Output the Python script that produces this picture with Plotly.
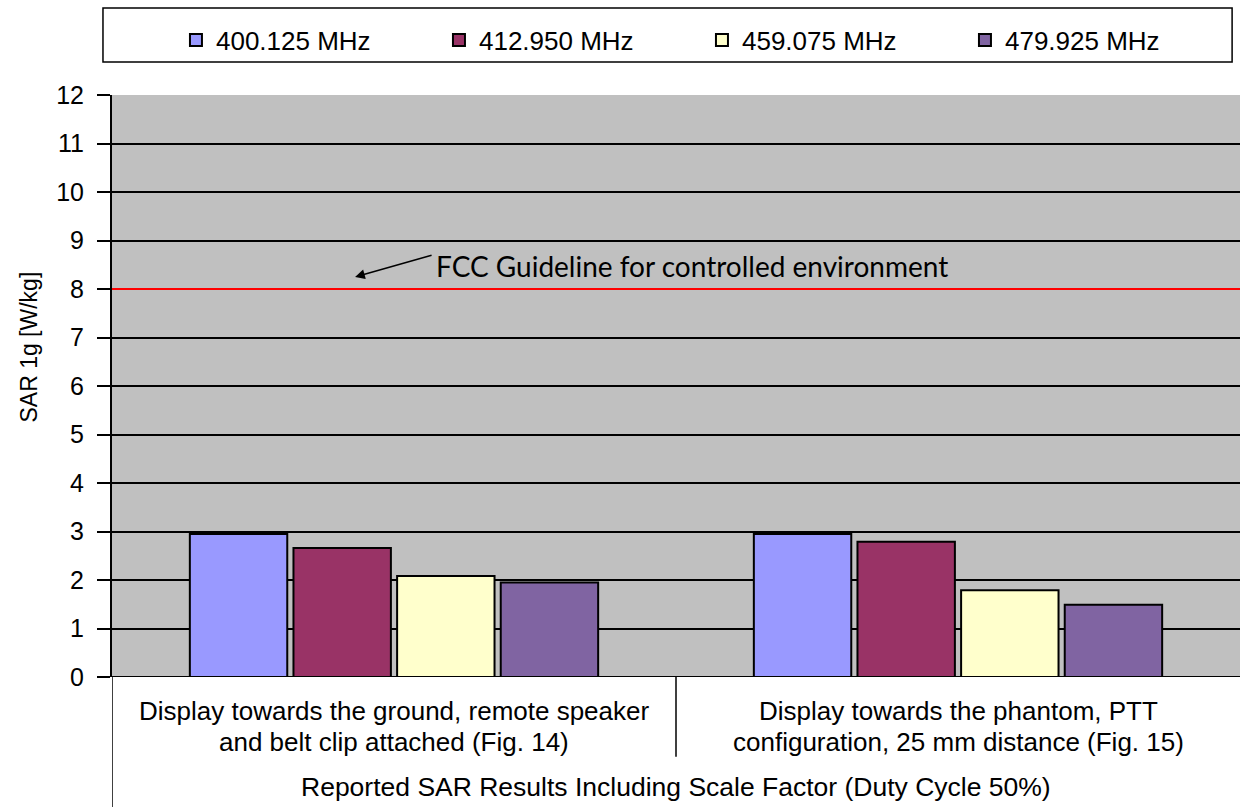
import plotly.graph_objects as go

categories = [
    "Display towards the ground, remote speaker<br>and belt clip attached (Fig. 14)",
    "Display towards the phantom, PTT<br>configuration, 25 mm distance (Fig. 15)",
]
group_title = "Reported SAR Results Including Scale Factor (Duty Cycle 50%)"
y_title = "SAR 1g [W/kg]"
series_names = ["400.125 MHz", "412.950 MHz", "459.075 MHz", "479.925 MHz"]
series_values = [
    [2.95, 2.95],
    [2.66, 2.79],
    [2.08, 1.79],
    [1.95, 1.49],
]
series_colors = ["#9999FF", "#993366", "#FFFFCC", "#8064A2"]
limit_value = 8
limit_label = "FCC Guideline for controlled environment"
y_ticks = list(range(0, 13))

x_idx = list(range(len(categories)))
ARIAL = "Arial, Liberation Sans, sans-serif"

fig = go.Figure()
for name, vals, col in zip(series_names, series_values, series_colors):
    fig.add_trace(go.Bar(
        x=x_idx, y=vals, name=name,
        marker=dict(color=col, line=dict(color="black", width=2)),
    ))

fig.update_layout(
    width=1240, height=807,
    margin=dict(l=112, r=0, t=95, b=130, autoexpand=False),
    paper_bgcolor="white",
    plot_bgcolor="#C0C0C0",
    barmode="group",
    bargap=0.265,
    bargroupgap=0.06,
    font=dict(family=ARIAL, color="black"),
    showlegend=True,
    legend=dict(
        orientation="h", x=0.0567, xanchor="left", y=1.0945, yanchor="middle",
        font=dict(size=26), bgcolor="rgba(0,0,0,0)",
        entrywidth=218, entrywidthmode="pixels", traceorder="normal",
    ),
    xaxis=dict(
        range=[-0.5, 1.5], tickvals=x_idx, ticktext=["", ""],
        showgrid=False, zeroline=False, ticks="", showline=False,
    ),
    yaxis=dict(
        range=[0, 12], tickvals=y_ticks, showgrid=True, gridcolor="black",
        gridwidth=1.5, zeroline=False, showline=True, linecolor="black",
        linewidth=2, ticks="outside", ticklen=13, tickcolor="black", tickwidth=1.5,
        tickfont=dict(size=25), ticklabelstandoff=8,
    ),
)

# zero baseline
fig.add_shape(type="line", xref="paper", yref="y", x0=0, x1=1, y0=0, y1=0,
              line=dict(color="black", width=2))
# guideline
fig.add_shape(type="line", xref="paper", yref="y", x0=0, x1=1,
              y0=limit_value, y1=limit_value, line=dict(color="#FF0000", width=2))
# category dividers under axis
fig.add_shape(type="line", xref="x", yref="paper", x0=-0.5, x1=-0.5, y0=0, y1=-0.224,
              line=dict(color="black", width=1.5))
fig.add_shape(type="line", xref="x", yref="paper", x0=0.5, x1=0.5, y0=0, y1=-0.137,
              line=dict(color="black", width=1.5))
# legend box
fig.add_shape(type="rect", xref="paper", yref="paper", x0=-0.008, x1=0.993,
              y0=1.0567, y1=1.1495, line=dict(color="black", width=1.5),
              fillcolor="rgba(0,0,0,0)")

# category labels (two lines each)
line_y = [-0.0584, -0.1117]
for i, cat in enumerate(categories):
    for ly, part in zip(line_y, cat.split("<br>")):
        fig.add_annotation(x=i, y=ly, xref="x", yref="paper", text=part,
                           showarrow=False, xanchor="center", yanchor="middle",
                           font=dict(family=ARIAL, size=26, color="black"))
fig.add_annotation(x=0.5, y=-0.189, xref="paper", yref="paper", text=group_title,
                   showarrow=False, xanchor="center", yanchor="middle",
                   font=dict(family=ARIAL, size=26.5, color="black"))
# y title
fig.add_annotation(x=-0.074, y=0.567, xref="paper", yref="paper", text=y_title,
                   textangle=-90, showarrow=False, xanchor="center", yanchor="middle",
                   font=dict(family=ARIAL, size=23, color="black"))

fig.add_annotation(x=0.529, y=limit_value + 0.48, xref="x", yref="y",
                   text=limit_label, showarrow=False, xanchor="center", yanchor="middle",
                   font=dict(family="Lato, Carlito, sans-serif", size=28, color="black"))
fig.add_annotation(x=-0.069, y=limit_value + 0.25, xref="x", yref="y", text="",
                   showarrow=True, arrowhead=2, arrowsize=1.3, arrowwidth=1.5,
                   arrowcolor="black", ax=78, ay=-22)

fig.write_html("out.html", config={"displayModeBar": False},
               post_script="document.body.style.margin='0';document.body.style.overflow='hidden';")
